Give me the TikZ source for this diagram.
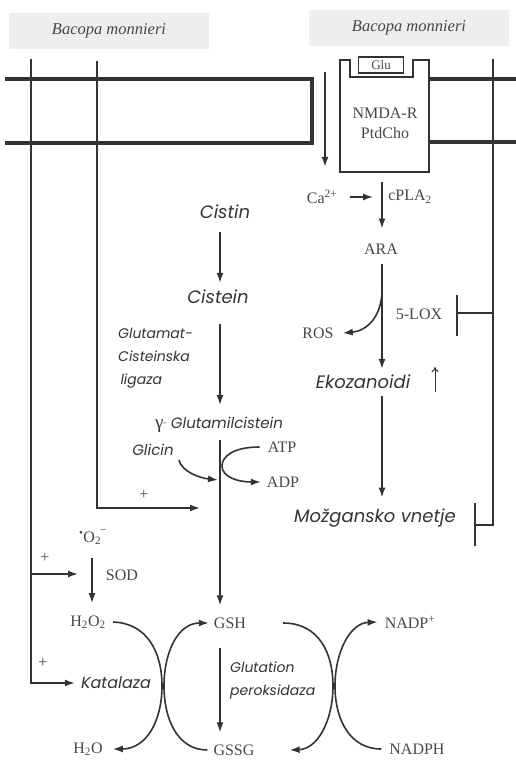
\documentclass[tikz,border=0pt]{standalone}
\usepackage{fontspec}
\setmainfont{Liberation Serif}
\newfontfamily\pathsans{Poppins}
\usetikzlibrary{arrows.meta, positioning}
\definecolor{Ink}{HTML}{333333}
\definecolor{SoftInk}{HTML}{474747}
\definecolor{ExtractGray}{HTML}{EEEEEE}

\tikzset{
  extract/.style={fill=ExtractGray, minimum width=200pt, minimum height=36pt,
    text=SoftInk, font=\fontsize{16.5}{18}\selectfont\itshape},
  chem/.style={text=SoftInk, font=\fontsize{16}{20}\selectfont, inner sep=1pt},
  compound/.style={text=Ink, font=\pathsans\itshape\fontsize{18}{20}\selectfont, inner sep=1pt},
  enzyme/.style={text=Ink, font=\pathsans\itshape\fontsize{14}{23}\selectfont, inner sep=1pt, align=left},
  flow/.style={draw=Ink, line width=1.6pt, -{Latex[length=10pt,width=7pt]}},
  link/.style={draw=Ink, line width=1.5pt},
  membrane/.style={draw=Ink, line width=3.2pt},
}

\begin{document}
\begin{tikzpicture}[x=1pt, y=-1pt]
  \useasboundingbox (0,0) rectangle (516,771);

  % Bacopa monnieri extracts
  \node[extract] (bacopaL) at (109,31) {Bacopa monnieri};
  \node[extract] (bacopaR) at (409,27.5) {Bacopa monnieri};

  % cell membrane and NMDA receptor
  \draw[membrane] (5,79) -- (312,79) -- (312,143) -- (5,143);
  \draw[membrane] (430,79) -- (516,79);
  \draw[membrane] (430,142) -- (516,142);
  \draw[link] (340,60) -- (350,60) -- (350,77) -- (413,77) -- (413,60) -- (429,60)
    -- (429,172) -- (340,172) -- cycle;
  \node[chem, draw=Ink, line width=1.2pt, minimum width=45pt, minimum height=16pt,
    inner sep=0pt, font=\fontsize{13}{15}\selectfont] (glu) at (381,65) {Glu};
  \node[chem, align=center] (nmda) at (385,123) {NMDA-R\\PtdCho};
  \coordinate (nmdaOut) at (382,172);

  % right branch: Ca, cPLA2, eicosanoids
  \coordinate (caIn) at (325,72);
  \node[chem] (ca) at (322,197) {Ca\textsuperscript{2+}};
  \node[chem] (cpla) at (410,197) {cPLA\textsubscript{2}};
  \node[chem] (ara) at (381,249) {ARA};
  \node[chem] (ros) at (318,333) {ROS};
  \node[chem] (lox) at (419,314) {5-LOX};
  \node[compound] (eko) at (363,382) {Ekozanoidi};
  \node[compound] (vnetje) at (375,518) {Možgansko vnetje};
  \coordinate (rosFork) at (382,292);
  \coordinate (ekoUp) at (435,392);

  \draw[flow, shorten >=22pt] (caIn) -- (caIn |- ca.north);
  \draw[flow, shorten <=10pt, shorten >=14pt] (nmdaOut) -- (nmdaOut |- ara.north);
  \draw[flow, shorten <=12pt, shorten >=9pt] (ca.east) -- (ca.east -| nmdaOut);
  \draw[flow, shorten <=9pt, shorten >=5pt] (ara.south -| nmdaOut) -- (eko.north -| nmdaOut);
  \draw[flow] (rosFork) .. controls (381,318) and (366,331) .. ([xshift=8pt]ros.east);
  \draw[draw=Ink, line width=1pt, -{To[length=5pt,width=7pt]}] (ekoUp) -- ++(0,-25);
  \draw[flow, shorten <=6pt, shorten >=10pt] (eko.south -| nmdaOut) -- (vnetje.north -| nmdaOut);

  % inhibition by Bacopa
  \coordinate (bR) at (493,59);
  \coordinate (loxBar) at (457,313);
  \coordinate (vnBar) at (475,525);
  \draw[link] (bR) |- (vnBar);
  \draw[link] (bR |- loxBar) -- (loxBar);
  \draw[link] (loxBar) ++(0,-18) -- ++(0,41);
  \draw[link] (vnBar) ++(0,-22) -- ++(0,43);

  % left branch: glutathione synthesis
  \coordinate (col) at (220,0);
  \node[compound] (cistin) at (225,212) {Cistin};
  \node[compound] (cistein) at (218,297) {Cistein};
  \node[enzyme, anchor=west] (ligaza) at (117,358) {Glutamat-\\Cisteinska\\\,ligaza};
  \node[compound, font=\pathsans\itshape\fontsize{15}{18}\selectfont] (gglu) at (219,425)
    {{\rmfamily\upshape\fontsize{19}{20}\selectfont γ\raisebox{3pt}{\fontsize{9}{9}\selectfont -}} Glutamilcistein};
  \node[compound, font=\pathsans\itshape\fontsize{15}{18}\selectfont] (glicin) at (153,450) {Glicin};
  \node[chem] (atp) at (282,447) {ATP};
  \node[chem] (adp) at (283,482) {ADP};
  \coordinate (glyIn) at (218,480);
  \coordinate (bacIn) at (200,508);

  \draw[flow, shorten <=12pt, shorten >=6pt] (cistin.south -| col) -- (cistein.north -| col);
  \draw[flow, shorten <=19pt, shorten >=11pt] (cistein.south -| col) -- (gglu.north -| col);
  \draw[flow] ([shift={(4,3)}]glicin.south east) .. controls +(3,12) and +(-18,-2) .. (glyIn);
  \draw[flow] ([xshift=-7pt]atp.west) .. controls (234,447) and (222,456) .. (222,466)
    .. controls (222,477) and (238,482) .. ([xshift=-5pt]adp.west);

  \coordinate (bL1) at (31,59);
  \coordinate (bL2) at (97,61);
  \draw[flow] (bL2) |- (bacIn);
  \node[chem] (plusA) at (144,495) {+};

  % antioxidant enzymes
  \coordinate (sodCol) at (92,0);
  \coordinate (sodIn) at (78,574);
  \node[chem] (o2) at (93,537) {\textsuperscript{•}O\textsubscript{2}\kern-1pt\raisebox{3pt}{\textsuperscript{−}}};
  \node[chem] (sod) at (122,575) {SOD};
  \node[chem] (h2o2) at (88,622) {H\textsubscript{2}O\textsubscript{2}};
  \node[compound, font=\pathsans\itshape\fontsize{16}{18}\selectfont] (kat) at (116,683) {Katalaza};
  \node[chem] (h2o) at (88,749) {H\textsubscript{2}O};
  \node[chem] (gsh) at (230,623) {GSH};
  \node[chem] (gssg) at (234,750) {GSSG};
  \node[chem] (nadp) at (410,622) {NADP\textsuperscript{+}};
  \node[chem] (nadph) at (417,749) {NADPH};
  \node[enzyme, anchor=west] (gpx) at (229,680) {Glutation\\peroksidaza};
  \node[chem] (plusB) at (45,558) {+};
  \node[chem] (plusC) at (43,663) {+};

  \draw[flow, shorten <=6pt, shorten >=11pt] (gglu.south -| col) -- (gsh.north -| col);
  \draw[flow] (bL1) |- ([xshift=-5pt]kat.west);
  \draw[flow] (bL1 |- sodIn) -- (sodIn);
  \draw[flow, shorten <=12pt, shorten >=11pt] (o2.south -| sodCol) -- (h2o2.north -| sodCol);
  \draw[flow, shorten <=18pt, shorten >=11pt] (gsh.south -| col) -- (gssg.north -| col);

  \draw[flow] ([xshift=6pt]h2o2.east) .. controls (147,623) and (162,652) .. (162,686)
    .. controls (162,720) and (147,749) .. ([xshift=9pt]h2o.east);
  \draw[flow] ([xshift=-5pt]gssg.west) .. controls (178,750) and (164,720) .. (164,686)
    .. controls (164,652) and (178,623) .. ([xshift=-4pt]gsh.west);
  \draw[flow] ([xshift=36pt]gsh.east) .. controls (318,623) and (333,652) .. (333,686)
    .. controls (333,720) and (318,749) .. ([xshift=34pt]gssg.east);
  \draw[flow] ([xshift=-7pt]nadph.west) .. controls (350,749) and (335,720) .. (335,686)
    .. controls (335,652) and (350,623) .. ([xshift=-6pt]nadp.west);
\end{tikzpicture}
\end{document}
